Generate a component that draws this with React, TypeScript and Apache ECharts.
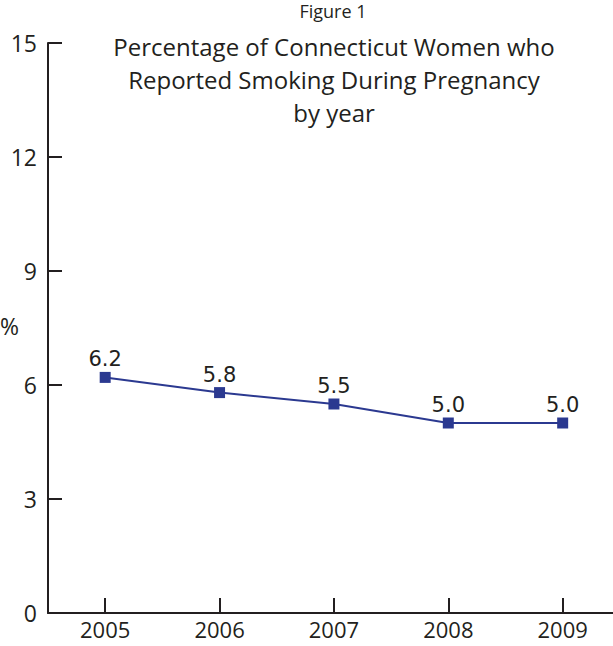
import React, { useEffect, useRef } from "react";
import * as echarts from "echarts";

const years = [2005, 2006, 2007, 2008, 2009];
const percents = [6.2, 5.8, 5.5, 5.0, 5.0];
const yTicks = [0, 3, 6, 9, 12, 15];
const titleLines = ["Percentage of Connecticut Women who", "Reported Smoking During Pregnancy", "by year"];
const figureLabel = "Figure 1";

export default function App() {
  const ref = useRef<HTMLDivElement>(null);
  useEffect(() => {
    if (!ref.current) return;
    const chart = echarts.init(ref.current, null, { renderer: "svg" });
    const axisColor = "#231f20";
    const font = "'Open Sans', 'Liberation Sans', sans-serif";
    chart.setOption({
      animation: false,
      backgroundColor: "#ffffff",
      title: [
        {
          text: figureLabel,
          left: 333,
          top: 2,
          padding: 0,
          textAlign: "center",
          textStyle: { fontSize: 18, fontWeight: "normal", color: "#231f20", fontFamily: font, lineHeight: 18 },
        },
        {
          text: titleLines.join("\n"),
          left: 334,
          top: 30,
          padding: 0,
          textAlign: "center",
          textStyle: { fontSize: 24, fontWeight: "normal", color: "#231f20", fontFamily: font, lineHeight: 33 },
        },
      ],
      graphic: [
        {
          type: "text",
          left: 0,
          top: 314,
          style: { text: "%", fontSize: 23, fill: "#231f20", fontFamily: font },
        },
      ],
      grid: { left: 48, right: 0, top: 43, bottom: 33, containLabel: false },
      xAxis: {
        type: "value",
        min: 2004.5,
        max: 2009.44,
        axisLine: { show: true, onZero: false, lineStyle: { color: axisColor, width: 2 } },
        axisTick: { show: true, inside: true, length: 15, customValues: years, lineStyle: { color: axisColor, width: 2 } },
        axisLabel: {
          fontSize: 22,
          color: "#231f20",
          margin: 5,
          fontFamily: font,
          customValues: years,
          formatter: (v: number) => String(Math.round(v)),
        },
        splitLine: { show: false },
      },
      yAxis: {
        type: "value",
        min: yTicks[0],
        max: yTicks[yTicks.length - 1],
        interval: 3,
        axisLine: { show: true, lineStyle: { color: axisColor, width: 2 } },
        axisTick: { show: true, inside: true, length: 14, lineStyle: { color: axisColor, width: 2 } },
        axisLabel: { fontSize: 23, color: "#231f20", margin: 11, fontFamily: font },
        splitLine: { show: false },
      },
      series: [
        {
          type: "line",
          data: years.map((y, i) => [y, percents[i]]),
          symbol: "rect",
          symbolSize: 11,
          itemStyle: { color: "#2b3990" },
          lineStyle: { color: "#2b3990", width: 2 },
          label: {
            show: true,
            position: "top",
            distance: 2,
            fontSize: 21,
            color: "#231f20",
            fontFamily: "'DejaVu Sans', sans-serif",
            formatter: (p: any) => Number(p.value[1]).toFixed(1),
          },
        },
      ],
    });
    return () => chart.dispose();
  }, []);
  return <div ref={ref} style={{ position: "absolute", left: 0, top: 0, width: 613, height: 646 }} />;
}
